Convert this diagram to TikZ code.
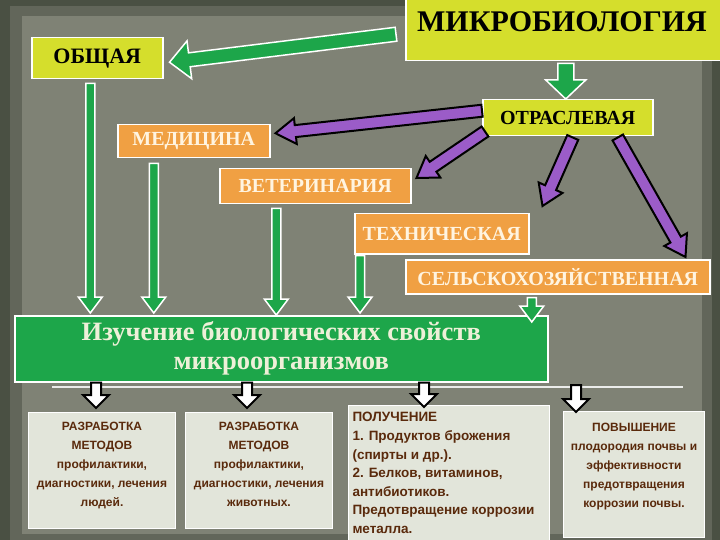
\documentclass[tikz,border=0pt]{standalone}
\usepackage{fontspec}
\setmainfont{Liberation Serif}
\newfontfamily\boxsans{Liberation Sans}
\usetikzlibrary{calc}
\definecolor{bgdark}{HTML}{4A5043}
\definecolor{bgmid}{HTML}{62665A}
\definecolor{bglight}{HTML}{7F8275}
\definecolor{ygreen}{HTML}{D5DE2C}
\definecolor{orng}{HTML}{F0A043}
\definecolor{grn}{HTML}{1DA64A}
\definecolor{purp}{HTML}{9B5CC8}
\definecolor{pale}{HTML}{E2E5DA}
\definecolor{brn}{HTML}{5A2A0C}
\definecolor{cream}{HTML}{FFF4E0}
\definecolor{gtext}{HTML}{EEF0D8}
\newcommand\fatarrow[6]{%
  \coordinate (fac) at ($(#3)!#6!(#2)$);
  \draw[#1] ($(#2)!#4!90:(#3)$) -- ($(fac)!#4!90:(#3)$) -- ($(fac)!#5!90:(#3)$) -- (#3) -- ($(fac)!#5!-90:(#3)$) -- ($(fac)!#4!-90:(#3)$) -- ($(#2)!#4!-90:(#3)$) -- cycle;}
\begin{document}
\begin{tikzpicture}[x=1pt,y=-1pt,
  ybox/.style={fill=ygreen,draw=white,line width=1.5pt,inner sep=0pt,anchor=north west,text=black},
  obox/.style={fill=orng,draw=white,line width=1.5pt,inner sep=0pt,anchor=north west,text=cream,font=\bfseries\fontsize{20}{20}\selectfont},
  gbox/.style={fill=grn,draw=white,line width=1.5pt,inner sep=0pt,anchor=north west,text=gtext},
  lbox/.style={fill=pale,draw=white,line width=1pt,inner sep=4pt,anchor=north west,text=brn,font=\boxsans\bfseries\fontsize{12}{19}\selectfont},
  garrow/.style={fill=grn,draw=white,line width=1.5pt,line join=miter},
  parrow/.style={fill=purp,draw=black,line width=2pt,line join=miter},
  warrow/.style={fill=white,draw=black,line width=2pt,line join=miter}]
\useasboundingbox (0,0) rectangle (720,540);
\fill[bgdark] (0,0) rectangle (720,540);
\fill[bgmid] (10,6) rectangle (712,540);
\fill[bglight] (22,16) rectangle (702,534);
\draw[white,line width=1.5pt,opacity=0.85] (52,387) -- (683,387);
% top level
\node[ybox,minimum width=318,minimum height=61] (micro) at (405,-1) {};
\node[font=\bfseries\fontsize{30}{30}\selectfont] (microtxt) at (562,22) {МИКРОБИОЛОГИЯ};
\node[ybox,minimum width=131,minimum height=41,font=\bfseries\fontsize{22}{22}\selectfont] (obsh) at (31,37) {ОБЩАЯ};
\node[ybox,minimum width=170,minimum height=36,font=\bfseries\fontsize{20}{20}\selectfont] (otr) at (482,99) {ОТРАСЛЕВАЯ};
% branches
\node[obox,minimum width=152,minimum height=33] (med) at (117,124) {МЕДИЦИНА};
\node[obox,minimum width=191,minimum height=35] (vet) at (219,168) {ВЕТЕРИНАРИЯ};
\node[obox,minimum width=174,minimum height=40] (tech) at (354,213) {ТЕХНИЧЕСКАЯ};
\node[obox,minimum width=304,minimum height=34] (selsk) at (405,259) {СЕЛЬСКОХОЗЯЙСТВЕННАЯ};
% big box
\node[gbox,minimum width=533,minimum height=66,align=center,font=\bfseries\fontsize{26.5}{29}\selectfont] (big) at (14,315)
  {Изучение биологических свойств\\микроорганизмов};
% bottom boxes
\node[lbox] (b1) at (28,412) {\parbox[c][108pt][t]{139pt}{\vspace*{6pt}\centering РАЗРАБОТКА\\МЕТОДОВ\\профилактики,\\диагностики, лечения\\людей.}};
\node[lbox] (b2) at (185,412) {\parbox[c][108pt][t]{139pt}{\vspace*{6pt}\centering РАЗРАБОТКА\\МЕТОДОВ\\профилактики,\\диагностики, лечения\\животных.}};
\node[lbox,font=\boxsans\bfseries\fontsize{13.5}{18.6}\selectfont] (b3) at (348,405) {\parbox[c][132pt][t]{193pt}{\vspace*{3pt}\raggedright ПОЛУЧЕНИЕ\\1. Продуктов брожения\\(спирты и др.).\\2. Белков, витаминов,\\антибиотиков.\\Предотвращение коррозии\\металла.}};
\node[lbox] (b4) at (563,411) {\parbox[c][118pt][t]{133pt}{\vspace*{8pt}\centering ПОВЫШЕНИЕ\\плодородия почвы и\\эффективности\\предотвращения\\коррозии почвы.}};
% green arrows from top
\coordinate (a1s) at ($(micro.west)+(-9,4)$);
\coordinate (a1e) at ($(obsh.east)+(6,4)$);
\fatarrow{garrow}{a1s}{a1e}{7pt}{19pt}{20pt}
\coordinate (a2s) at ($(otr.north |- micro.south)+(-2,2)$);
\coordinate (a2e) at ($(otr.north)+(-2,0)$);
\fatarrow{garrow}{a2s}{a2e}{8pt}{20pt}{19pt}
% purple arrows
\coordinate (p1s) at ($(otr.west)+(0,-7)$);
\coordinate (p1e) at ($(med.east)+(5,-8)$);
\fatarrow{parrow}{p1s}{p1e}{6pt}{13pt}{20pt}
\coordinate (p2s) at ($(otr.south west)+(3,-5)$);
\coordinate (p2e) at ($(vet.north east)+(5,10)$);
\fatarrow{parrow}{p2s}{p2e}{6pt}{13pt}{20pt}
\coordinate (p3s) at ($(otr.south)+(5,1)$);
\coordinate (p3e) at ($(tech.north east)+(13,-7)$);
\fatarrow{parrow}{p3s}{p3e}{6pt}{13pt}{20pt}
\coordinate (p4s) at ($(otr.south)+(50,1)$);
\coordinate (p4e) at ($(selsk.north east)+(-25,-2)$);
\fatarrow{parrow}{p4s}{p4e}{6pt}{13pt}{20pt}
% green arrows to big box
\coordinate (v1s) at ($(obsh.south)+(-7,4)$);
\coordinate (v1e) at ($(v1s |- big.north)+(0,-2)$);
\fatarrow{garrow}{v1s}{v1e}{4.5pt}{12pt}{16pt}
\coordinate (v2s) at ($(med.south)+(-40,5)$);
\coordinate (v2e) at ($(v2s |- big.north)+(0,-2)$);
\fatarrow{garrow}{v2s}{v2e}{4.5pt}{12pt}{16pt}
\coordinate (v3s) at ($(vet.south)+(-39,4)$);
\coordinate (v3e) at ($(v3s |- big.north)+(0,0)$);
\fatarrow{garrow}{v3s}{v3e}{4.5pt}{12pt}{16pt}
\coordinate (v4s) at ($(tech.south west)+(6,1)$);
\coordinate (v4e) at ($(v4s |- big.north)+(0,-2)$);
\fatarrow{garrow}{v4s}{v4e}{4.5pt}{12pt}{16pt}
\coordinate (v5s) at ($(selsk.south)+(-26,3)$);
\coordinate (v5e) at ($(v5s |- big.north)+(0,7)$);
\fatarrow{garrow}{v5s}{v5e}{4.5pt}{12pt}{16pt}
% white arrows to bottom boxes
\coordinate (w1s) at ($(b1.north |- big.south)+(-6,0)$);
\coordinate (w1e) at ($(b1.north)+(-6,-4)$);
\fatarrow{warrow}{w1s}{w1e}{5pt}{13pt}{13pt}
\coordinate (w2s) at ($(b2.north |- big.south)+(-12,0)$);
\coordinate (w2e) at ($(b2.north)+(-12,-4)$);
\fatarrow{warrow}{w2s}{w2e}{5pt}{13pt}{13pt}
\coordinate (w3s) at ($(b3.north |- big.south)+(-25,0)$);
\coordinate (w3e) at ($(b3.north)+(-25,2)$);
\fatarrow{warrow}{w3s}{w3e}{5pt}{13pt}{13pt}
\coordinate (w4s) at ($(b4.north)+(-58,-26)$);
\coordinate (w4e) at ($(b4.north)+(-58,1)$);
\fatarrow{warrow}{w4s}{w4e}{5pt}{13pt}{13pt}
\end{tikzpicture}
\end{document}
